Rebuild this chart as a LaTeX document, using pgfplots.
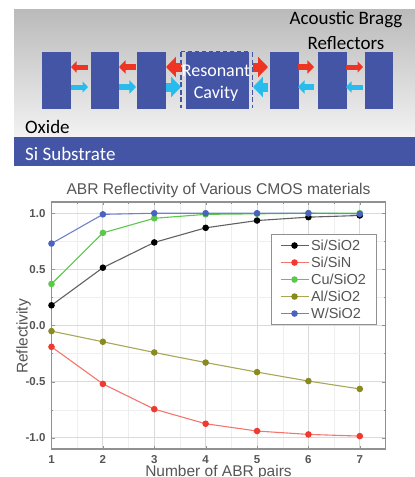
\documentclass[border=0pt]{standalone}
\usepackage{pgfplots}
\pgfplotsset{compat=1.18}
\usepackage{fontspec}
\setmainfont{Liberation Sans}
\newfontfamily\calfont{Carlito}
\usetikzlibrary{arrows.meta}
\definecolor{blk}{HTML}{4555A5}
\definecolor{arr}{HTML}{EE3524}
\definecolor{cyn}{HTML}{27BBEE}
\definecolor{grn}{HTML}{5CC84A}
\definecolor{oli}{HTML}{8A8A20}
\definecolor{blu}{HTML}{4A62C0}
\definecolor{red2}{HTML}{F03A30}
\definecolor{gridc}{HTML}{DADADA}
\definecolor{axc}{HTML}{919191}
\definecolor{txt}{HTML}{555555}
\pgfplotstableread{
n sisio sisin cusio alsio wsio
1 0.18 -0.19 0.37 -0.05 0.73
2 0.515 -0.52 0.825 -0.145 0.99
3 0.74 -0.745 0.955 -0.24 1.0
4 0.87 -0.875 0.99 -0.33 1.0
5 0.935 -0.94 0.995 -0.415 1.0
6 0.965 -0.97 1.0 -0.495 1.0
7 0.98 -0.985 1.0 -0.565 0.995
}\abr
\begin{document}
\begin{tikzpicture}[x=1pt,y=-1pt]
\path[use as bounding box] (0,0) rectangle (415,477);
% schematic
\shade[top color=black!27,bottom color=black!5,shading angle=0] (14,9) rectangle (415,137);
\fill[blk] (14,137) rectangle (415,165.5);
\foreach \a/\b in {42/71,90.5/119,137/165.5,186/249,270/298.5,318/346.5,364.5/393}
  \fill[blk] (\a,51.5) rectangle (\b,108.5);
\draw[blk,line width=1.8pt,dash pattern=on 5pt off 2.5pt] (181,52) -- (181,108);
\draw[blk,line width=1.8pt,dash pattern=on 5pt off 2.5pt] (252.5,52) -- (252.5,108);
\draw[blk,line width=1pt,dash pattern=on 4pt off 3pt] (181,51.5) -- (249,51.5);
\foreach \xa/\xb/\y/\c/\w in {88/71/67/arr/5, 136/119/67/arr/6, 181/166/67/arr/9,
   71/88/87/cyn/5, 119/136/87/cyn/6, 166/181/87/cyn/9,
   253/268/67/arr/9, 298/314/67/arr/6, 346/363/67/arr/5,
   268/253/87/cyn/9, 314/298/87/cyn/6, 363/346/87/cyn/5}
  \draw[\c,line width=\w pt,-{Triangle[length=1.1*\w pt,width=2.2*\w pt]}] (\xa,\y) -- (\xb,\y);
\node[white,font=\fontsize{18}{18}\calfont] at (216,71) {Resonant};
\node[white,font=\fontsize{18}{18}\calfont] at (216,94) {Cavity};
\node[font=\fontsize{19}{19}\calfont] at (346,20) {Acoustic Bragg};
\node[font=\fontsize{19}{19}\calfont] at (346,43.5) {Reflectors};
\node[anchor=west,inner sep=0pt,font=\fontsize{19}{19}\calfont] at (25,127) {Oxide};
\node[anchor=west,inner sep=0pt,white,font=\fontsize{19}{19}\calfont] at (25,154) {Si Substrate};
% chart
\coordinate (A) at (51.5,449);
\begin{axis}[at={(A)},anchor=south west,scale only axis,width=334pt,height=247pt,
  xmin=1,xmax=7.5,ymin=-1.1,ymax=1.1,
  xtick={1,...,7},ytick={-1,-0.5,0,0.5,1},minor x tick num=1,minor y tick num=1,
  grid=both,major grid style={gridc,line width=0.8pt},minor grid style={gridc!45,line width=0.4pt},
  axis line style={axc,line width=1.4pt},tick style={axc},tick align=inside,
  major tick length=3pt,minor tick length=1.5pt,
  xticklabel style={font=\fontsize{11.5}{11.5}\selectfont\bfseries,text=txt,yshift=-3pt},
  yticklabel style={font=\fontsize{11.5}{11.5}\selectfont\bfseries,text=txt,xshift=-2.5pt},
  yticklabel={\pgfmathprintnumber[fixed,fixed zerofill,precision=1]{\tick}},
  /pgf/number format/assume math mode=true,
  title={ABR Reflectivity of Various CMOS materials},
  title style={font=\fontsize{15.6}{15.6}\selectfont,text=txt,yshift=-5pt},
  xlabel={Number of ABR pairs},ylabel={Reflectivity},
  label style={font=\fontsize{15.5}{15.5}\selectfont,text=txt},
  xlabel style={yshift=5pt},ylabel style={yshift=-12pt,xshift=-11pt},
  legend cell align=left,
  legend image code/.code={\draw[mark repeat=2,mark phase=2,#1] plot coordinates {(0pt,0pt)(14pt,0pt)(28pt,0pt)};},
  legend style={at={(0.974,0.502)},anchor=south east,fill=white,
    draw=axc,line width=0.9pt,font=\fontsize{14.5}{14.5}\selectfont\color{txt},
    row sep=1pt,inner xsep=8.5pt,inner ysep=3pt},
  clip=false]
\addplot[black!62,line width=1.1pt,mark=*,mark size=2.7pt,mark options={fill=black,draw=black}] table[x=n,y=sisio]{\abr};
\addlegendentry{Si/SiO2}
\addplot[red2!70,line width=1.1pt,mark=*,mark size=2.7pt,mark options={fill=red2,draw=red2}] table[x=n,y=sisin]{\abr};
\addlegendentry{Si/SiN}
\addplot[grn,line width=1.1pt,mark=*,mark size=2.7pt,mark options={fill=grn,draw=grn}] table[x=n,y=cusio]{\abr};
\addlegendentry{Cu/SiO2}
\addplot[oli!75,line width=1.1pt,mark=*,mark size=2.7pt,mark options={fill=oli,draw=oli}] table[x=n,y=alsio]{\abr};
\addlegendentry{Al/SiO2}
\addplot[blu!80,line width=1.1pt,mark=*,mark size=2.7pt,mark options={fill=blu,draw=blu}] table[x=n,y=wsio]{\abr};
\addlegendentry{W/SiO2}
\end{axis}
\end{tikzpicture}
\end{document}
